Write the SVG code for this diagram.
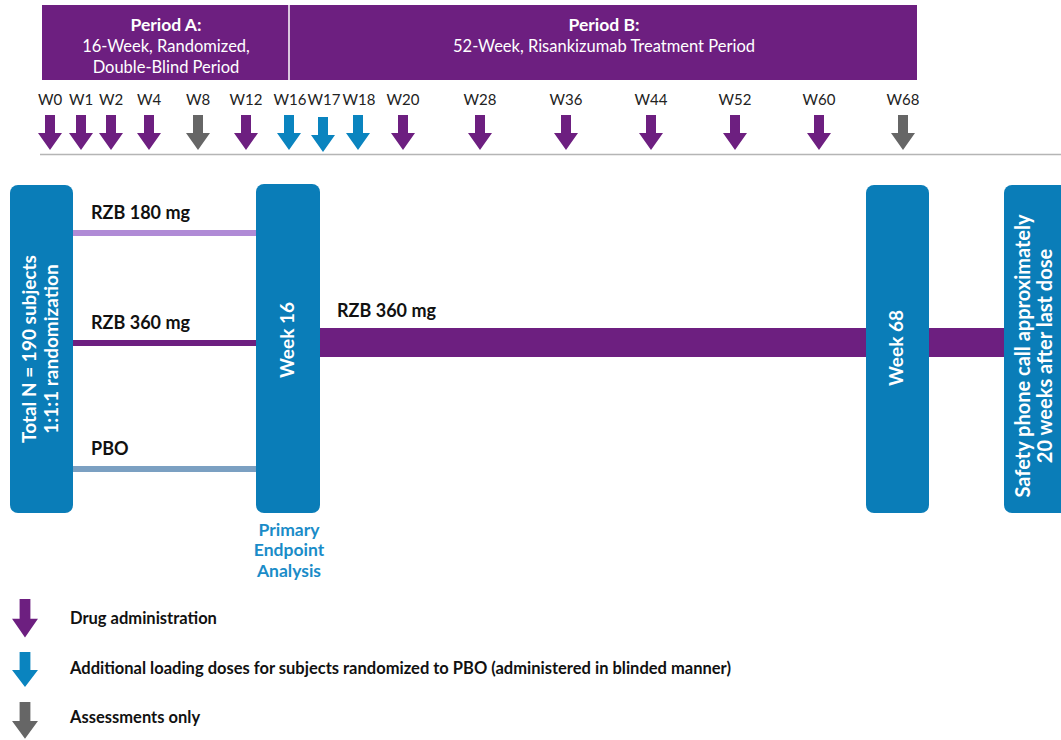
<svg xmlns="http://www.w3.org/2000/svg" width="1061" height="740" viewBox="0 0 1061 740">
<style>
text{font-family:Lato,"Open Sans","Liberation Sans",sans-serif}
.hb{fill:#fff;font-size:17.5px;font-weight:bold}
.hn{fill:#fff;font-size:16.5px}
.wk{fill:#222;font-size:15px;text-anchor:middle}
.lab{fill:#111;font-size:18px;font-weight:bold}
.box{fill:#0a7db8}
.bt{fill:#fff;font-size:19px;font-weight:bold;text-anchor:middle}
.bs{fill:#fff;font-size:20px;font-weight:bold;text-anchor:middle}
.leg{fill:#111;font-size:16.5px;font-weight:bold}
.pe{fill:#1a8cc8;font-size:17.5px;font-weight:bold;text-anchor:middle}
.ap{fill:#6d1f80}.ab{fill:#0a84bf}.ag{fill:#666}
</style>
<defs>
<path id="arr" d="M-5,0 h10 v18 h7 l-12,17 l-12,-17 h7 z"/>
</defs>
<rect width="1061" height="740" fill="#fff"/>
<g id="header">
<rect x="42" y="5" width="875" height="75" fill="#6d1f80"/>
<line x1="289" y1="5" x2="289" y2="80" stroke="#fff" stroke-width="1.5"/>
<text class="hb" x="166" y="31" text-anchor="middle">Period A:</text>
<text class="hn" x="166" y="52" text-anchor="middle">16-Week, Randomized,</text>
<text class="hn" x="166" y="73" text-anchor="middle">Double-Blind Period</text>
<text class="hb" x="604" y="31" text-anchor="middle">Period B:</text>
<text class="hn" x="604" y="52" text-anchor="middle">52-Week, Risankizumab Treatment Period</text>
</g>
<g id="weeks">
<text class="wk" x="50" y="105">W0</text>
<text class="wk" x="81" y="105">W1</text>
<text class="wk" x="111" y="105">W2</text>
<text class="wk" x="149" y="105">W4</text>
<text class="wk" x="198" y="105">W8</text>
<text class="wk" x="246" y="105">W12</text>
<text class="wk" x="290" y="105">W16</text>
<text class="wk" x="324" y="105">W17</text>
<text class="wk" x="359" y="105">W18</text>
<text class="wk" x="403" y="105">W20</text>
<text class="wk" x="480" y="105">W28</text>
<text class="wk" x="566" y="105">W36</text>
<text class="wk" x="651" y="105">W44</text>
<text class="wk" x="735" y="105">W52</text>
<text class="wk" x="819" y="105">W60</text>
<text class="wk" x="903" y="105">W68</text>
</g>
<g id="timeline-arrows">
<use href="#arr" class="ap" x="50" y="115"/>
<use href="#arr" class="ap" x="81" y="115"/>
<use href="#arr" class="ap" x="111" y="115"/>
<use href="#arr" class="ap" x="149" y="115"/>
<use href="#arr" class="ag" x="198" y="115"/>
<use href="#arr" class="ap" x="246" y="115"/>
<use href="#arr" class="ab" x="289" y="115"/>
<use href="#arr" class="ab" x="323" y="117"/>
<use href="#arr" class="ab" x="358" y="115"/>
<use href="#arr" class="ap" x="403" y="115"/>
<use href="#arr" class="ap" x="480" y="115"/>
<use href="#arr" class="ap" x="566" y="115"/>
<use href="#arr" class="ap" x="651" y="115"/>
<use href="#arr" class="ap" x="735" y="115"/>
<use href="#arr" class="ap" x="819" y="115"/>
<use href="#arr" class="ag" x="903" y="115"/>
<line x1="40" y1="154.5" x2="1061" y2="154.5" stroke="#b5b5b5" stroke-width="1.5"/>
</g>
<g id="connectors">
<rect x="73" y="230" width="183" height="6" fill="#b08bd6"/>
<rect x="73" y="340" width="183" height="6" fill="#6d1f80"/>
<rect x="73" y="466" width="183" height="6" fill="#7ba0c2"/>
<rect x="320" y="328" width="684" height="29" fill="#6d1f80"/>
</g>
<g id="arm-labels">
<text class="lab" x="91" y="219">RZB 180 mg</text>
<text class="lab" x="91" y="329">RZB 360 mg</text>
<text class="lab" x="91" y="455">PBO</text>
<text class="lab" x="337" y="317">RZB 360 mg</text>
</g>
<g id="node-randomization">
<rect class="box" x="10" y="185" width="63" height="328" rx="8"/>
<text class="bt" transform="translate(36,349) rotate(-90)">Total N = 190 subjects</text>
<text class="bt" transform="translate(58,349) rotate(-90)">1:1:1 randomization</text>
</g>
<g id="node-week16">
<rect class="box" x="256" y="184" width="64" height="329" rx="8"/>
<text class="bt" transform="translate(294,340) rotate(-90)">Week 16</text>
</g>
<g id="node-week68">
<rect class="box" x="866" y="185" width="63" height="328" rx="8"/>
<text class="bt" transform="translate(903,348) rotate(-90)">Week 68</text>
</g>
<g id="node-safety">
<rect class="box" x="1004" y="185" width="70" height="328" rx="8"/>
<text class="bs" transform="translate(1030,356) rotate(-90)">Safety phone call approximately</text>
<text class="bs" transform="translate(1052,356) rotate(-90)">20  weeks after last dose</text>
</g>
<g id="primary-endpoint">
<text class="pe" x="289" y="536">Primary</text>
<text class="pe" x="289" y="556">Endpoint</text>
<text class="pe" x="289" y="577">Analysis</text>
</g>
<g id="legend">
<use href="#arr" class="ap" transform="translate(25,599) scale(1.08,1.1)"/>
<use href="#arr" class="ab" transform="translate(25,652) scale(1.08,1.0)"/>
<use href="#arr" class="ag" transform="translate(25,702) scale(1.08,1.05)"/>
<text class="leg" x="70" y="624">Drug administration</text>
<text class="leg" x="70" y="674">Additional loading doses for subjects randomized to PBO (administered in blinded manner)</text>
<text class="leg" x="70" y="723">Assessments only</text>
</g>
</svg>
